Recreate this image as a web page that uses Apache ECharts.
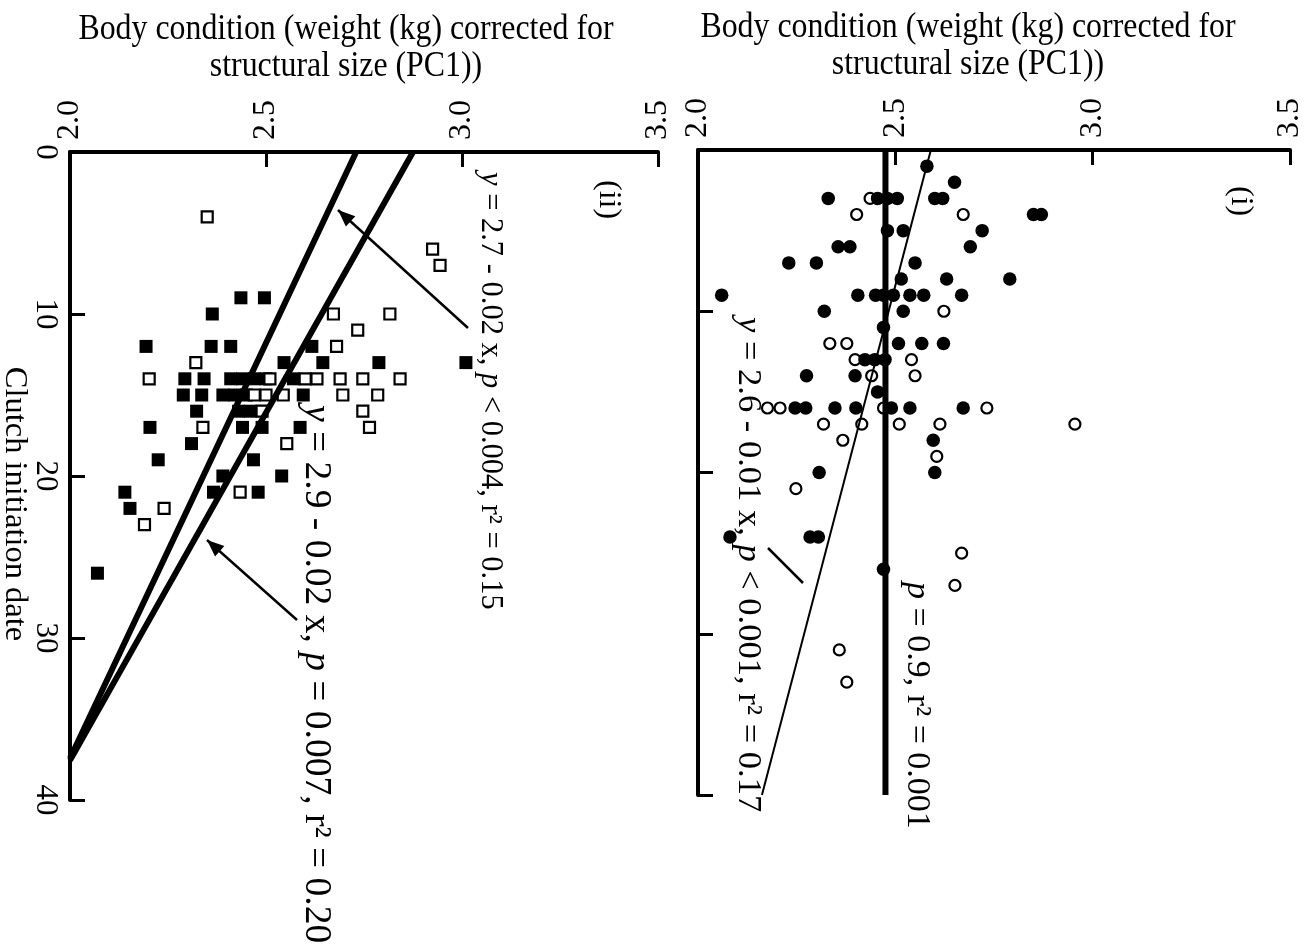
<!DOCTYPE html>
<html>
<head>
<meta charset="utf-8">
<script src="https://cdn.jsdelivr.net/npm/echarts@6/dist/echarts.min.js"></script>
<style>
  html, body { margin: 0; padding: 0; background: #ffffff; }
  #chart { width: 1313px; height: 952px; }
</style>
</head>
<body>
<div id="chart"></div>
<script>
// ---- axis ticks ----
const bodyTicks = [2.0, 2.5, 3.0, 3.5];   // body condition
const dateTicks = [0, 10, 20, 30, 40];    // clutch initiation date

// ---- panel (ii): squares, [date, body condition] ----
const iiFilled = [
  [9, 2.436], [9, 2.496], [10, 2.363], [12, 2.194], [12, 2.36], [12, 2.41], [12, 2.617],
  [13, 2.546], [13, 2.645], [13, 2.788], [13, 3.01],
  [14, 2.293], [14, 2.342], [14, 2.41], [14, 2.44], [14, 2.47], [14, 2.50], [14, 2.57],
  [15, 2.289], [15, 2.336], [15, 2.39], [15, 2.42], [15, 2.45], [15, 2.595],
  [16, 2.323], [16, 2.43], [16, 2.46],
  [17, 2.204], [17, 2.44], [17, 2.49], [17, 2.587],
  [18, 2.31], [19, 2.225], [19, 2.468], [20, 2.39], [20, 2.54],
  [21, 2.14], [21, 2.366], [21, 2.48], [22, 2.153], [26, 2.07]
];
const iiOpen = [
  [4, 2.35], [6, 2.925], [7, 2.944], [10, 2.672], [10, 2.816], [11, 2.734], [12, 2.68],
  [13, 2.321], [14, 2.202], [14, 2.51], [14, 2.60], [14, 2.63], [14, 2.689], [14, 2.747], [14, 2.842],
  [15, 2.47], [15, 2.50], [15, 2.544], [15, 2.696], [15, 2.785],
  [16, 2.49], [16, 2.747], [17, 2.339], [17, 2.764], [18, 2.553],
  [21, 2.434], [22, 2.24], [23, 2.19]
];

// ---- panel (i): circles, [date, body condition] ----
const iFilled = [
  [1, 2.58], [2, 2.65], [3, 2.33], [3, 2.455], [3, 2.48], [3, 2.505], [3, 2.60], [3, 2.62],
  [4, 2.85], [4, 2.87], [5, 2.48], [5, 2.52], [5, 2.72], [6, 2.355], [6, 2.385], [6, 2.69],
  [7, 2.23], [7, 2.30], [7, 2.55], [8, 2.515], [8, 2.63], [8, 2.79],
  [9, 2.06], [9, 2.405], [9, 2.45], [9, 2.47], [9, 2.495], [9, 2.537], [9, 2.572], [9, 2.668],
  [10, 2.32], [10, 2.52], [11, 2.47], [12, 2.508], [12, 2.567], [12, 2.622],
  [13, 2.423], [13, 2.448], [13, 2.474], [14, 2.275], [14, 2.398], [15, 2.455],
  [16, 2.246], [16, 2.273], [16, 2.347], [16, 2.40], [16, 2.49], [16, 2.537], [16, 2.672],
  [18, 2.596], [20, 2.60], [20, 2.307], [24, 2.081], [24, 2.284], [24, 2.305], [26, 2.47]
];
const iOpen = [
  [3, 2.436], [4, 2.402], [4, 2.672], [10, 2.623], [12, 2.334], [12, 2.377], [13, 2.398], [13, 2.541],
  [14, 2.44], [14, 2.55], [16, 2.176], [16, 2.208], [16, 2.47], [16, 2.732],
  [17, 2.318], [17, 2.415], [17, 2.51], [17, 2.613], [17, 2.955], [18, 2.367], [19, 2.605],
  [21, 2.248], [25, 2.668], [27, 2.651], [31, 2.358], [33, 2.377]
];

// ---- regression fits: body = a + b * date ----
const fitsII = [ { a: 2.73, b: -0.0195 }, { a: 2.875, b: -0.0233 } ];
const fitsI  = [ { a: 2.59, b: -0.0107, w: 2 }, { a: 2.475, b: 0, w: 6 } ];

// ---- text ----
const yTitle = 'Body condition (weight (kg) corrected for\nstructural size (PC1))';
const xTitle = 'Clutch initiation date';

const SERIF = '"Liberation Serif", "Times New Roman", serif';
const bodyMin = bodyTicks[0], bodyMax = bodyTicks[bodyTicks.length - 1];
const dateMin = dateTicks[0], dateMax = dateTicks[dateTicks.length - 1];

const toXY = pts => pts.map(p => [p[1], p[0]]);

// fitted line from date 0 until it leaves the plot (body 2.0 or date 40)
function fitLine(f) {
  let dEnd = dateMax;
  if (f.b < 0) dEnd = Math.min(dateMax, (f.a - bodyMin) / -f.b);
  return [[f.a, 0], [f.a + f.b * dEnd, dEnd]];
}

function bodyAxis(gridIndex) {
  return {
    type: 'value', gridIndex, position: 'top',
    min: bodyMin, max: bodyMax, interval: bodyTicks[1] - bodyTicks[0],
    axisLine: { show: true, onZero: false, lineStyle: { color: '#000', width: 4 } },
    axisTick: { show: true, inside: true, length: 15, lineStyle: { color: '#000', width: 3 } },
    axisLabel: {
      show: true, rotate: -90, margin: 12, color: '#000',
      fontFamily: SERIF, fontSize: 32,
      formatter: v => v.toFixed(1)
    },
    splitLine: { show: false }
  };
}
function dateAxis(gridIndex, labels) {
  return {
    type: 'value', gridIndex, inverse: true,
    min: dateMin, max: dateMax, interval: dateTicks[1] - dateTicks[0],
    axisLine: { show: true, onZero: false, lineStyle: { color: '#000', width: 4 } },
    axisTick: { show: true, inside: true, length: 15, lineStyle: { color: '#000', width: 3 } },
    axisLabel: {
      show: labels, rotate: -90, margin: 9, color: '#000',
      fontFamily: SERIF, fontSize: 31
    },
    splitLine: { show: false }
  };
}

function scatter(idx, data, symbol, size, open, z) {
  return {
    type: 'scatter', xAxisIndex: idx, yAxisIndex: idx,
    data: toXY(data), symbol, symbolSize: size, z,
    itemStyle: open
      ? { color: '#fff', borderColor: '#000', borderWidth: 2.2, opacity: 1 }
      : { color: '#000', opacity: 1 },
    emphasis: { disabled: true }
  };
}
function line(idx, f, width) {
  return {
    type: 'line', xAxisIndex: idx, yAxisIndex: idx,
    data: fitLine(f), showSymbol: false, symbol: 'none', z: 5,
    lineStyle: { color: '#000', width },
    emphasis: { disabled: true }
  };
}

// rotated (top-to-bottom) text with italic variables
function vText(x, y, parts, size) {
  return {
    type: 'text', x, y, rotation: -Math.PI / 2, z: 20,
    style: {
      text: parts, fill: '#000', font: size + 'px ' + SERIF,
      align: 'left', verticalAlign: 'middle',
      rich: {
        i: { fontStyle: 'italic', fontSize: size, fontFamily: SERIF },
        n: { fontSize: size, fontFamily: SERIF }
      }
    }
  };
}
function arrow(x1, y1, x2, y2, head) {
  const els = [{
    type: 'line', z: 20,
    shape: { x1, y1, x2, y2 },
    style: { stroke: '#000', lineWidth: 2.5 }
  }];
  if (head) {
    const ang = Math.atan2(y2 - y1, x2 - x1), L = 17, W = 7;
    const bx = x2 - L * Math.cos(ang), by = y2 - L * Math.sin(ang);
    els.push({
      type: 'polygon', z: 21,
      shape: { points: [[x2, y2],
        [bx + W * Math.sin(ang), by - W * Math.cos(ang)],
        [bx - W * Math.sin(ang), by + W * Math.cos(ang)]] },
      style: { fill: '#000' }
    });
  }
  return els;
}
// horizontal, slightly condensed title block
function hText(x, y, text, size) {
  return {
    type: 'text', x, y, z: 20, scaleX: 0.91,
    style: { text, fill: '#000', font: size + 'px ' + SERIF,
      align: 'center', verticalAlign: 'middle', lineHeight: 37 }
  };
}

const option = {
  backgroundColor: '#ffffff',
  animation: false,
  grid: [
    { left: 70, top: 152, width: 588, height: 648 },
    { left: 698, top: 150, width: 592, height: 645 }
  ],
  xAxis: [bodyAxis(0), bodyAxis(1)],
  yAxis: [dateAxis(0, true), dateAxis(1, false)],
  series: [
    scatter(0, iiFilled, 'rect', 13, false, 2),
    scatter(0, iiOpen, 'rect', 11, true, 3),
    ...fitsII.map(f => line(0, f, 6)),
    scatter(1, iOpen, 'circle', 11, true, 2),
    scatter(1, iFilled, 'circle', 13.5, false, 3),
    ...fitsI.map(f => line(1, f, f.w))
  ],
  graphic: [
    hText(346, 48, yTitle, 35),
    hText(968, 46, yTitle, 35),
    {
      type: 'text', x: 15, y: 504, rotation: -Math.PI / 2, z: 20,
      style: { text: xTitle, fill: '#000', font: '32.5px ' + SERIF, align: 'center', verticalAlign: 'middle' }
    },
    vText(608, 180, '{n|(ii)}', 32),
    vText(1240, 186, '{n|(i)}', 32),
    vText(490, 172, '{i|y}{n| = 2.7 - 0.02 x, }{i|p}{n| < 0.004, r² = 0.15}', 30.5),
    vText(316, 405, '{i|y}{n| = 2.9 - 0.02 x, }{i|p}{n| = 0.007, r² = 0.20}', 37.5),
    vText(748, 317, '{i|y}{n| = 2.6 - 0.01 x, }{i|p}{n| < 0.001, r² = 0.17}', 34.5),
    vText(917, 582, '{i|p}{n| = 0.9, r² = 0.001}', 34),
    ...arrow(468, 328, 338, 210, true),
    ...arrow(297, 620, 207, 540, true),
    ...arrow(768, 548, 803, 583, false)
  ]
};

const chart = echarts.init(document.getElementById('chart'), null, { renderer: 'canvas' });
chart.setOption(option);
</script>
</body>
</html>
